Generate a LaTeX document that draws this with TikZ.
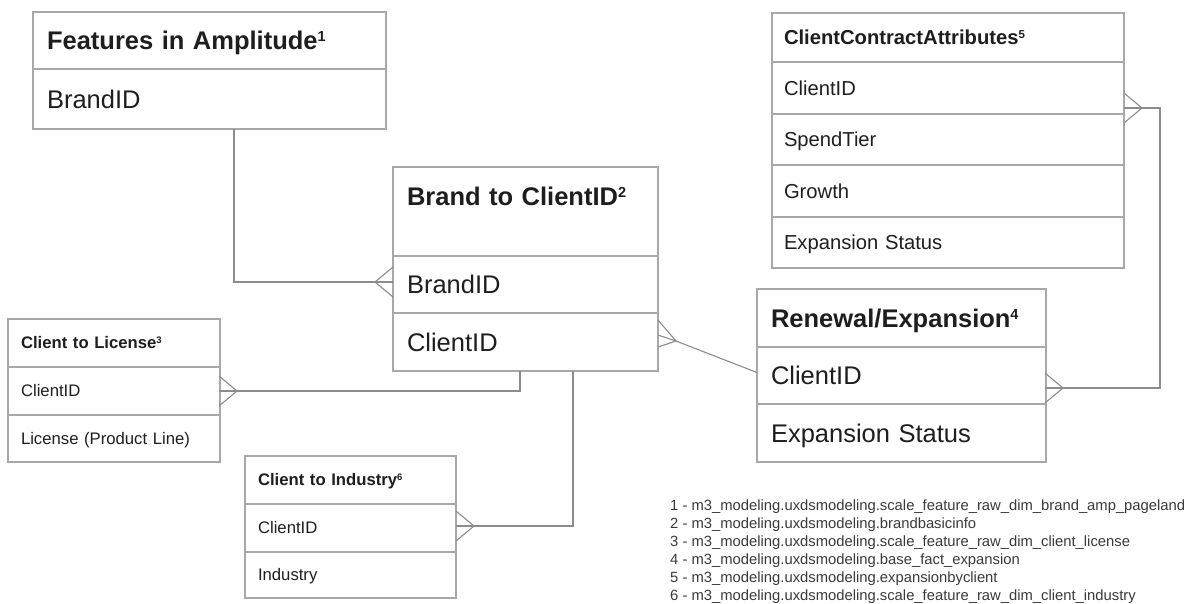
\documentclass[tikz,border=0pt]{standalone}
\usepackage{fontspec}
\setmainfont{Liberation Sans}
\definecolor{boxgray}{HTML}{A8A8A8}
\definecolor{linegray}{HTML}{8C8C8C}
\definecolor{ink}{HTML}{1E1E1E}
\definecolor{footink}{HTML}{3A3A3A}
\newcommand\bigf{\fontsize{25.5}{30}\selectfont}
\newcommand\midf{\fontsize{20.2}{24}\selectfont}
\newcommand\smallf{\fontsize{16.7}{20}\selectfont}
\newcommand\footf{\fontsize{14.8}{18}\selectfont}
\newcommand\supbig[1]{\raisebox{8pt}{\fontsize{14.5}{14}\selectfont #1}}
\newcommand\supmid[1]{\raisebox{6.3pt}{\fontsize{11.5}{12}\selectfont #1}}
\newcommand\supsmall[1]{\raisebox{5pt}{\fontsize{9.5}{10}\selectfont #1}}
\begin{document}
\begin{tikzpicture}[x=1pt,y=-1pt,
  cell/.style={draw=boxgray, line width=1.1pt, rectangle, anchor=north west,
    inner ysep=0pt, align=left, text=ink, text depth=0pt, outer sep=0pt},
  bigcell/.style={cell, font=\bigf, inner xsep=14pt, text height=18pt},
  midcell/.style={cell, font=\midf, inner xsep=12pt, text height=14.3pt},
  smallcell/.style={cell, font=\smallf, inner xsep=13pt, text height=11.8pt},
  conn/.style={draw=linegray, line width=1.1pt},
  footnote/.style={anchor=base west, font=\footf, text=footink, inner sep=0pt},
  crow/.pic={\draw[conn] (18,-15) -- (0,0) -- (18,15) (0,0) -- (18,0);}
]
\fill[white] (0,0) rectangle (1190,603);
\useasboundingbox (0,0) rectangle (1190,603);

% Features in Amplitude
\node[bigcell, minimum width=353pt, minimum height=57pt, text width=325pt, font=\bigf\bfseries] (fa-t) at (33,12) {Features in Amplitude\supbig{1}};
\node[bigcell, minimum width=353pt, minimum height=60pt, text width=325pt] (fa-b) at (33,69) {BrandID};

% Brand to ClientID
\node[bigcell, minimum width=265pt, minimum height=89pt, text width=237pt, text depth=30.7pt, font=\bigf\bfseries] (bc-t) at (393,167) {Brand to ClientID\supbig{2}};
\node[bigcell, minimum width=265pt, minimum height=57pt, text width=237pt] (bc-b) at (393,256) {BrandID};
\node[bigcell, minimum width=265pt, minimum height=58pt, text width=237pt] (bc-c) at (393,313) {ClientID};

% ClientContractAttributes
\node[midcell, minimum width=352pt, minimum height=49pt, text width=328pt, font=\midf\bfseries] (cc-t) at (772,13) {ClientContractAttributes\supmid{5}};
\node[midcell, minimum width=352pt, minimum height=52pt, text width=328pt] (cc-c) at (772,62) {ClientID};
\node[midcell, minimum width=352pt, minimum height=51pt, text width=328pt] (cc-s) at (772,114) {SpendTier};
\node[midcell, minimum width=352pt, minimum height=52pt, text width=328pt] (cc-g) at (772,165) {Growth};
\node[midcell, minimum width=352pt, minimum height=51pt, text width=328pt] (cc-e) at (772,217) {Expansion Status};

% Renewal/Expansion
\node[bigcell, minimum width=289pt, minimum height=58pt, text width=261pt, font=\bigf\bfseries] (re-t) at (757,289) {Renewal/Expansion\supbig{4}};
\node[bigcell, minimum width=289pt, minimum height=57pt, text width=261pt] (re-c) at (757,347) {ClientID};
\node[bigcell, minimum width=289pt, minimum height=58pt, text width=261pt] (re-e) at (757,404) {Expansion Status};

% Client to License
\node[smallcell, minimum width=212pt, minimum height=48pt, text width=186pt, font=\smallf\bfseries] (cl-t) at (8,319) {Client to License\supsmall{3}};
\node[smallcell, minimum width=212pt, minimum height=48pt, text width=186pt] (cl-c) at (8,367) {ClientID};
\node[smallcell, minimum width=212pt, minimum height=47pt, text width=186pt] (cl-l) at (8,415) {License (Product Line)};

% Client to Industry
\node[smallcell, minimum width=211pt, minimum height=48pt, text width=185pt, font=\smallf\bfseries] (ci-t) at (245,456) {Client to Industry\supsmall{6}};
\node[smallcell, minimum width=211pt, minimum height=48pt, text width=185pt] (ci-c) at (245,504) {ClientID};
\node[smallcell, minimum width=211pt, minimum height=46pt, text width=185pt] (ci-i) at (245,552) {Industry};

% Connectors
% Features -> Brand
\draw[conn] ([xshift=24.5pt]fa-b.south) |- ([yshift=2.5pt]bc-b.west);
\pic at ([xshift=-18pt,yshift=2.5pt]bc-b.west) {crow};

% Brand -> Renewal
\coordinate (bcA) at ([xshift=18pt,yshift=1pt]bc-c.east);
\draw[conn] (bcA) -- ([yshift=3pt]re-c.west);
\draw[conn] ([yshift=22pt]bc-c.east) -- (bcA) -- ([yshift=-5pt]bc-c.east)
  (bcA) -- ([yshift=7pt]bc-c.east);

% Brand -> Client to License
\draw[conn] (cl-c.east) -| ([xshift=-5.5pt]bc-c.south);
\pic[xscale=-1] at ([xshift=17pt]cl-c.east) {crow};

% Brand -> Client to Industry
\draw[conn] ([yshift=2pt]ci-c.east) -| ([xshift=47.5pt]bc-c.south);
\pic[xscale=-1] at ([xshift=18pt,yshift=2pt]ci-c.east) {crow};

% Renewal -> ClientContractAttributes
\coordinate (reP) at ([yshift=-12.5pt]re-c.east);
\coordinate (ccP) at ([yshift=-20pt]cc-c.east);
\draw[conn] (reP) -| ([xshift=36pt]ccP) -- (ccP);
\pic[xscale=-1] at ([xshift=17pt]reP) {crow};
\pic[xscale=-1] at ([xshift=18pt]ccP) {crow};

% Footnotes
\node[footnote] (fn1) at (670,510) {1 - m3\_modeling.uxdsmodeling.scale\_feature\_raw\_dim\_brand\_amp\_pageland};
\node[footnote] (fn2) at (670,528) {2 - m3\_modeling.uxdsmodeling.brandbasicinfo};
\node[footnote] (fn3) at (670,546) {3 - m3\_modeling.uxdsmodeling.scale\_feature\_raw\_dim\_client\_license};
\node[footnote] (fn4) at (670,564) {4 - m3\_modeling.uxdsmodeling.base\_fact\_expansion};
\node[footnote] (fn5) at (670,582) {5 - m3\_modeling.uxdsmodeling.expansionbyclient};
\node[footnote] (fn6) at (670,600) {6 - m3\_modeling.uxdsmodeling.scale\_feature\_raw\_dim\_client\_industry};
\end{tikzpicture}
\end{document}
